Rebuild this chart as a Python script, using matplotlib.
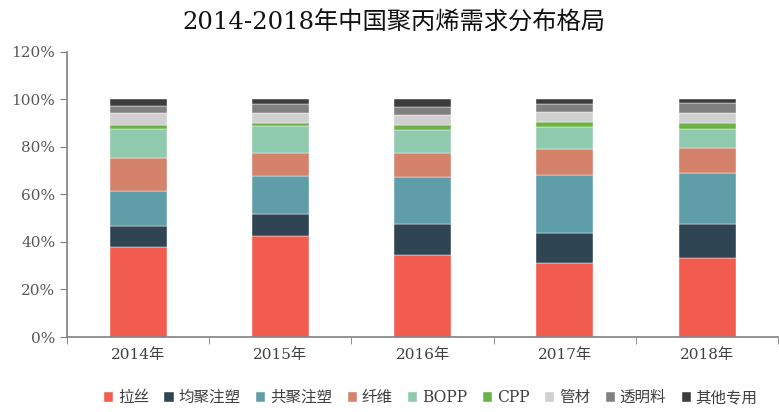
import matplotlib
matplotlib.use("Agg")
import matplotlib.pyplot as plt
import numpy as np

years = ["2014年", "2015年", "2016年", "2017年", "2018年"]
series_names = ["拉丝", "均聚注塑", "共聚注塑", "纤维", "BOPP", "CPP", "管材", "透明料", "其他专用"]
lasi = [37.8, 42.5, 34.5, 31.0, 33.3]
junju = [8.9, 9.3, 12.9, 12.9, 14.3]
gongju = [14.9, 16.1, 19.8, 24.3, 21.6]
xianwei = [13.6, 9.7, 10.1, 10.8, 10.5]
bopp = [12.3, 11.2, 9.9, 9.5, 7.8]
cpp = [1.8, 1.4, 2.1, 2.1, 2.5]
guancai = [4.9, 4.2, 4.2, 4.3, 4.2]
touming = [3.1, 3.7, 3.5, 3.2, 4.2]
qita = [2.7, 1.9, 3.0, 1.9, 1.6]

colors = ["#F25C4E", "#2F4553", "#5F9EA8", "#D4826A", "#8FC9AE",
          "#6DB246", "#D0D0D0", "#808080", "#3C3C3C"]

fam = ["DejaVu Serif", "Noto Sans CJK SC"]
plt.rcParams["font.family"] = fam

fig = plt.figure(figsize=(7.79, 4.12), dpi=100)
ax = fig.add_axes([0.086, 0.182, 0.913, 0.692])

data = [lasi, junju, gongju, xianwei, bopp, cpp, guancai, touming, qita]
x = np.arange(len(years))
bottom = np.zeros(len(years))
for name, vals, c in zip(series_names, data, colors):
    v = np.array(vals) / 100.0
    ax.bar(x, v, 0.4, bottom=bottom, color=c, label=name, edgecolor="white", linewidth=0.3)
    bottom += v

ax.set_xlim(-0.5, 4.5)
ax.set_ylim(0, 1.2)
ax.set_yticks(np.arange(0, 1.21, 0.2))
ax.set_yticklabels([f"{int(round(t*100))}%" for t in np.arange(0, 1.21, 0.2)],
                   fontsize=11, color="#595959")
ax.set_xticks(x)
ax.set_xticklabels(years, fontsize=11, color="#404040")
ax.set_xticks(np.arange(-0.5, 5.0, 1.0), minor=True)
ax.tick_params(axis="x", which="major", length=0, pad=8)
ax.tick_params(axis="x", which="minor", length=5, color="#808080", direction="out")
ax.tick_params(axis="y", length=5, color="#808080", direction="out")
for s in ["top", "right"]:
    ax.spines[s].set_visible(False)
for s in ["left", "bottom"]:
    ax.spines[s].set_color("#808080")
    ax.spines[s].set_linewidth(1.2)

fig.text(0.505, 0.945, "2014-2018年中国聚丙烯需求分布格局", ha="center", va="center",
         fontsize=17.5, color="#111111")

fig.legend(loc="center", bbox_to_anchor=(0.553, 0.035), ncol=9, frameon=False,
           fontsize=11.2, handlelength=0.6, handleheight=0.6, handletextpad=0.3,
           columnspacing=1.0, labelcolor="#404040")

fig.savefig("out.png", dpi=100)
